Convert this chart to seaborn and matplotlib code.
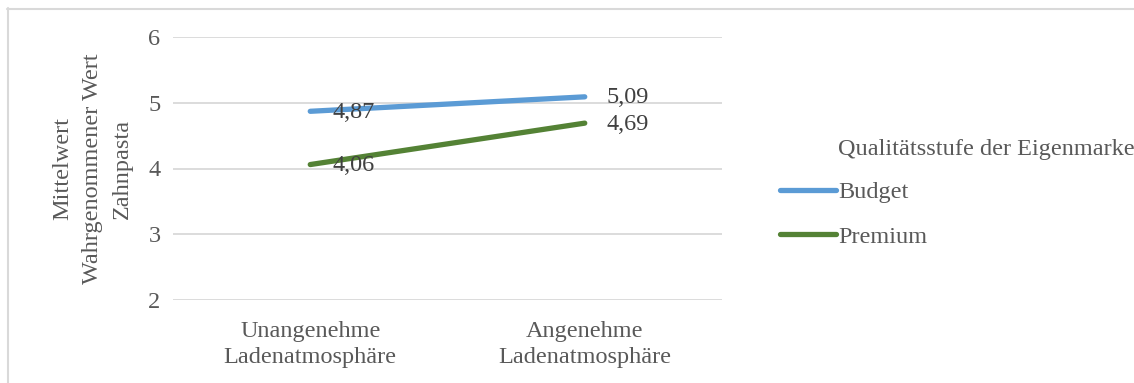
import matplotlib
matplotlib.use("Agg")
import matplotlib.pyplot as plt
from matplotlib.lines import Line2D
import seaborn as sns
import pandas as pd

# Data
categories = ["Unangenehme\nLadenatmosphäre", "Angenehme\nLadenatmosphäre"]
budget = [4.87, 5.09]
premium = [4.06, 4.69]
series_names = ["Budget", "Premium"]
y_ticks = [2, 3, 4, 5, 6]

df = pd.DataFrame({
    "Atmosphäre": categories * 2,
    "Wert": budget + premium,
    "Stufe": [series_names[0]] * 2 + [series_names[1]] * 2,
})

sns.set_theme(style="white")
plt.rcParams["font.family"] = ["Liberation Serif", "DejaVu Serif"]
text_color = "#595959"
grid_color = "#d9d9d9"
palette = {"Budget": "#5b9bd5", "Premium": "#548235"}
fs = 17.5

W, H = 1134, 383
fig = plt.figure(figsize=(W / 100, H / 100), dpi=100)
ax = fig.add_axes([173 / W, 1 - 300 / H, (722 - 173) / W, (300 - 37) / H])

sns.lineplot(data=df, x="Atmosphäre", y="Wert", hue="Stufe", palette=palette,
             linewidth=3.8, ax=ax, legend=False, sort=False,
             solid_capstyle="round")

ax.set_xlim(-0.5, 1.5)
ax.set_ylim(2, 6)
ax.set_yticks(y_ticks)
ax.set_yticklabels([str(t) for t in y_ticks])
ax.yaxis.grid(True, color=grid_color, linewidth=1.3)
ax.set_axisbelow(True)
for s in ax.spines.values():
    s.set_visible(False)
ax.tick_params(axis="both", length=0, labelsize=fs, colors=text_color)
ax.tick_params(axis="y", pad=9)
ax.tick_params(axis="x", pad=15)
for lbl in ax.get_xticklabels():
    lbl.set_linespacing(1.32)
ax.set_xlabel("")
ax.set_ylabel("Mittelwert\nWahrgenommener Wert\nZahnpasta", fontsize=fs,
              color=text_color, linespacing=1.56, labelpad=11)

# Value labels to the right of each point
for vals in (budget, premium):
    for i, v in enumerate(vals):
        ax.annotate(f"{v:.2f}".replace(".", ","), xy=(i, v), xytext=(22, -1),
                    textcoords="offset pixels",
                    ha="left", va="center", fontsize=fs, color="#404040")

# Legend
handles = [Line2D([0], [0], color=palette[n], lw=3.8, solid_capstyle="round")
           for n in series_names]
leg = fig.legend(handles, series_names,
                 loc="upper left", bbox_to_anchor=(780 / W, 1 - 181 / H),
                 frameon=False, fontsize=fs, borderpad=0, borderaxespad=0,
                 handlelength=2.3, handletextpad=0.1, labelspacing=0.93)
for t in leg.get_texts():
    t.set_color(text_color)
fig.text(838 / W, 1 - 150 / H, "Qualitätsstufe der Eigenmarke", fontsize=fs,
         color=text_color, ha="left", va="center")

# Chart-area border
fig.add_artist(Line2D([7.5 / W, 7.5 / W], [0, 1 - 8 / H], color="#d9d9d9",
                      lw=1.5, transform=fig.transFigure))
fig.add_artist(Line2D([7 / W, 1], [1 - 8.5 / H, 1 - 8.5 / H], color="#d9d9d9",
                      lw=1.5, transform=fig.transFigure))

fig.savefig("out.png", dpi=100, facecolor="white")
